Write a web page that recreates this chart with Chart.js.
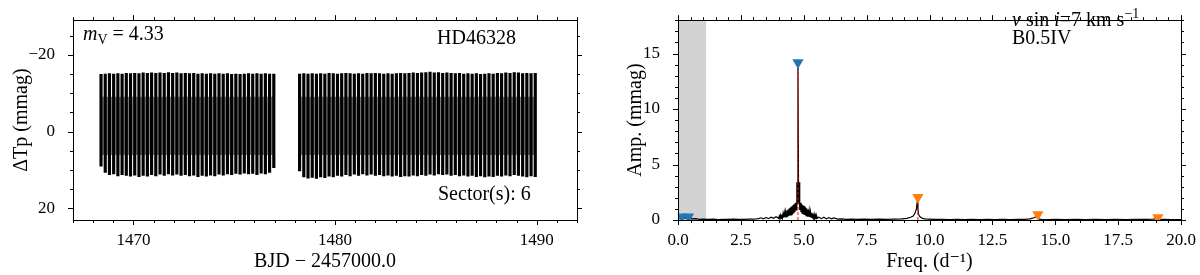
<!DOCTYPE html>
<html lang="en">
<head>
<meta charset="UTF-8">
<title>HD46328 - light curve and amplitude spectrum</title>
<script src="https://cdn.jsdelivr.net/npm/chart.js"></script>
<style>
  html, body { margin: 0; padding: 0; background: #fff; }
  #wrap { position: relative; width: 1200px; height: 275px; }
  .panel { position: absolute; top: 0; width: 600px; height: 275px; }
  #left { left: 0; }
  #right { left: 600px; }
</style>
</head>
<body>
<div id="wrap">
  <div class="panel" id="left"><canvas id="lcChart" width="600" height="275"></canvas></div>
  <div class="panel" id="right"><canvas id="spChart" width="600" height="275"></canvas></div>
</div>
<script>
// ---- light curve (TESS sector 6), one stroke per pulsation cycle: max / min in mmag
const seg1Start = 1468.39, seg1End = 1476.96;
const seg2Start = 1478.24, seg2End = 1489.93;
const seg1Top = [-14.9,-15.0,-15.1,-15.0,-15.1,-15.0,-15.2,-15.1,-15.2,-15.1,
                 -15.3,-15.2,-15.3,-15.2,-15.3,-15.2,-15.4,-15.2,-15.3,-15.1,
                 -15.2,-15.1,-15.2,-15.0,-15.1,-15.0,-15.1,-15.0,-15.1,-15.0,
                 -15.1,-14.9,-15.0,-14.9,-15.0,-15.1,-15.0,-15.1,-15.0,-15.1,
                 -15.0,-15.0];
const seg1Bottom = [9.0,10.6,11.2,11.0,11.5,11.2,11.4,11.6,11.3,11.7,
                    11.4,11.6,11.2,11.5,11.1,11.4,11.0,11.3,11.1,11.4,
                    11.2,11.5,11.3,11.7,11.4,11.6,11.3,11.5,11.1,11.3,
                    11.0,11.2,10.9,11.1,10.8,11.0,10.9,11.2,10.8,11.0,
                    10.6,9.4];
const seg2Top = [-15.0,-15.1,-15.0,-15.1,-15.0,-15.1,-15.0,-15.2,-15.1,-15.0,
                 -15.1,-15.2,-15.1,-15.0,-15.1,-15.0,-15.2,-15.1,-15.2,-15.1,
                 -15.0,-15.1,-15.0,-15.1,-15.2,-15.1,-15.2,-15.3,-15.2,-15.3,
                 -15.4,-15.5,-15.3,-15.4,-15.2,-15.3,-15.2,-15.1,-15.2,-15.0,
                 -15.1,-15.0,-15.1,-14.9,-15.0,-15.1,-15.0,-15.2,-15.1,-15.3,
                 -15.2,-15.4,-15.3,-15.1,-15.2,-15.1,-15.2];
const seg2Bottom = [10.2,11.8,12.1,11.9,12.2,11.8,12.0,11.6,11.8,11.4,
                    11.6,11.2,11.5,11.1,11.4,11.0,11.3,11.1,11.4,11.2,
                    11.5,11.3,11.6,11.4,11.7,11.5,11.6,11.3,11.5,11.2,
                    11.4,11.1,11.3,11.0,11.2,11.1,11.4,11.2,11.5,11.3,
                    11.6,11.4,11.7,11.5,11.8,11.6,11.7,11.4,11.6,11.3,
                    11.5,11.2,11.4,11.6,11.8,11.5,11.7];
// rising/falling branches fill the gaps between the cycle strokes over this range
const branchHigh = -9.0, branchLow = 6.0;
const lcXTicks = [1470, 1480, 1490];
const lcYTicks = [-20, 0, 20];

// ---- amplitude spectrum
const specFreq = [0.00,0.05,0.10,0.20,0.30,0.40,0.55,0.70,0.85,1.00,
                  1.20,1.40,1.60,1.80,2.00,2.20,2.40,2.60,2.80,3.00,
                  3.20,3.30,3.40,3.50,3.60,3.70,3.80,3.90,
                  4.000,4.025,4.050,4.075,4.100,4.125,4.150,4.175,4.200,4.225,
                  4.250,4.275,4.300,4.325,4.350,4.375,4.400,4.425,4.450,4.475,
                  4.500,4.525,4.550,4.575,4.600,4.625,4.650,4.675,4.700,4.725,
                  4.745,4.770,4.795,4.815,4.840,4.865,4.890,4.915,4.940,4.965,
                  4.990,5.015,5.040,5.065,5.090,5.115,5.140,5.165,5.190,5.215,
                  5.240,5.265,5.290,5.315,5.340,5.365,5.390,5.415,5.440,5.465,
                  5.490,5.515,5.540,5.60,5.70,5.80,5.90,6.00,6.10,6.20,
                  6.35,6.50,6.70,6.90,7.10,7.40,7.70,8.00,8.30,8.60,
                  8.90,9.10,9.25,9.35,9.42,9.48,9.52,9.54,9.56,9.60,
                  9.66,9.73,9.83,9.95,10.2,10.5,10.8,11.1,11.4,11.7,
                  12.0,12.3,12.6,12.9,13.2,13.5,13.8,14.0,14.15,14.25,
                  14.31,14.37,14.47,14.7,15.0,15.4,15.8,16.2,16.6,17.0,
                  17.4,17.8,18.2,18.6,18.9,19.02,19.08,19.14,19.3,19.6,
                  20.0];
const specAmp  = [0.25,0.35,0.20,0.30,0.15,0.25,0.10,0.12,0.06,0.08,
                  0.05,0.07,0.04,0.06,0.05,0.07,0.05,0.06,0.08,0.07,
                  0.12,0.20,0.10,0.22,0.12,0.25,0.15,0.30,
                  0.15,0.35,0.12,0.42,0.15,0.50,0.18,0.58,0.20,0.66,
                  0.25,0.75,0.28,0.85,0.30,0.95,0.35,1.05,0.40,1.15,
                  0.45,1.25,0.50,1.35,0.60,1.45,0.70,1.55,0.90,3.40,
                  1.50,13.8,1.50,3.40,0.90,1.55,0.70,1.45,0.60,1.35,
                  0.50,1.25,0.45,1.15,0.40,1.05,0.35,0.95,0.30,0.85,
                  0.28,0.75,0.25,0.66,0.20,0.58,0.18,0.50,0.15,0.42,
                  0.12,0.35,0.15,0.25,0.12,0.25,0.10,0.22,0.10,0.18,
                  0.08,0.10,0.06,0.08,0.06,0.07,0.05,0.07,0.06,0.08,
                  0.10,0.15,0.25,0.35,0.60,1.00,1.85,1.00,0.55,0.35,
                  0.22,0.15,0.10,0.07,0.05,0.06,0.04,0.05,0.04,0.05,
                  0.04,0.05,0.04,0.05,0.04,0.05,0.06,0.10,0.20,0.30,
                  0.20,0.08,0.05,0.04,0.05,0.04,0.05,0.04,0.05,0.04,
                  0.05,0.04,0.05,0.05,0.08,0.12,0.07,0.04,0.05,0.04,
                  0.04];
const fitFreq = [4.77, 9.54];
const fitAmp = [13.9, 1.85];
const indepFreq = [0.15, 0.42, 4.77];
const indepAmp = [0.30, 0.30, 14.2];
const comboFreq = [9.54, 14.31, 19.08];
const comboAmp = [2.05, 0.50, 0.22];
const lowFreqCut = 1.12;
const spXTicks = [0, 2.5, 5, 7.5, 10, 12.5, 15, 17.5, 20];
const spYTicks = [0, 5, 10, 15];

const SERIF = "'Liberation Serif', 'DejaVu Serif', serif";
Chart.defaults.font.family = SERIF;
Chart.defaults.color = '#000';

// frame with outward major/minor ticks on all four sides
const frameTicks = {
  id: 'frameTicks',
  afterDraw(chart, args, o) {
    const {ctx, chartArea: a, scales: {x, y}} = chart;
    ctx.save();
    ctx.strokeStyle = '#000';
    ctx.lineWidth = 1;
    ctx.strokeRect(Math.round(a.left) + 0.5, Math.round(a.top) + 0.5,
                   Math.round(a.right - a.left), Math.round(a.bottom - a.top));
    const marks = (scale, step, len) => {
      const lo = Math.min(scale.min, scale.max), hi = Math.max(scale.min, scale.max);
      const n0 = Math.ceil(lo / step - 1e-6), n1 = Math.floor(hi / step + 1e-6);
      ctx.beginPath();
      for (let k = n0; k <= n1; k++) {
        const p = Math.round(scale.getPixelForValue(k * step)) + 0.5;
        if (scale.isHorizontal()) {
          ctx.moveTo(p, a.bottom); ctx.lineTo(p, a.bottom + len);
          ctx.moveTo(p, a.top); ctx.lineTo(p, a.top - len);
        } else {
          ctx.moveTo(a.left, p); ctx.lineTo(a.left - len, p);
          ctx.moveTo(a.right, p); ctx.lineTo(a.right + len, p);
        }
      }
      ctx.stroke();
    };
    marks(x, o.xMinor, 3);
    marks(x, o.xMajor, 5);
    marks(y, o.yMinor, 3);
    marks(y, o.yMajor, 5);
    ctx.restore();
  }
};

function drawRuns(ctx, x, y, runs) {
  for (const r of runs) {
    ctx.font = r.font;
    ctx.fillText(r.t, x, y + (r.dy || 0));
    x += ctx.measureText(r.t).width;
  }
}

const notes = {
  id: 'notes',
  afterDraw(chart, args, o) {
    const ctx = chart.ctx;
    ctx.save();
    ctx.fillStyle = '#000';
    ctx.textBaseline = 'alphabetic';
    ctx.textAlign = 'left';
    o.lines.forEach(l => drawRuns(ctx, l.x, l.y, l.runs));
    ctx.restore();
  }
};

const lowBand = {
  id: 'lowBand',
  beforeDatasetsDraw(chart, args, o) {
    const {ctx, chartArea: a, scales: {x}} = chart;
    ctx.save();
    ctx.fillStyle = '#d3d3d3';
    const x1 = x.getPixelForValue(o.to);
    ctx.fillRect(a.left, a.top, x1 - a.left, a.bottom - a.top);
    ctx.restore();
  }
};

const rm = '20px ' + SERIF, it = 'italic 20px ' + SERIF, sm = '14px ' + SERIF;

// ---- left panel: light curve
const lcPoints = [], lcBranches = [];
function addSegment(start, end, tops, bottoms) {
  const dt = (end - start) / (tops.length - 1);
  tops.forEach((t, i) => {
    lcPoints.push({ x: start + i * dt, y: [bottoms[i], t] });
    if (i < tops.length - 1) lcBranches.push({ x: start + (i + 0.5) * dt, y: [branchLow, branchHigh] });
  });
}
addSegment(seg1Start, seg1End, seg1Top, seg1Bottom);
addSegment(seg2Start, seg2End, seg2Top, seg2Bottom);

new Chart(document.getElementById('lcChart'), {
  type: 'bar',
  data: {
    datasets: [
      { data: lcPoints, backgroundColor: '#000', borderWidth: 0, barThickness: 2.5, grouped: false },
      { data: lcBranches, backgroundColor: 'rgba(0,0,0,0.5)', borderWidth: 0, barThickness: 1.8, grouped: false }
    ]
  },
  options: {
    responsive: false,
    animation: false,
    layout: { padding: { top: 7, right: 23, left: 0, bottom: 0 } },
    plugins: {
      legend: { display: false },
      tooltip: { enabled: false },
      frameTicks: { xMinor: 1, xMajor: 10, yMinor: 5, yMajor: 20 },
      notes: { lines: [
        { x: 83, y: 40, runs: [{t: 'm', font: it}, {t: 'V', font: sm, dy: 4}, {t: ' = 4.33', font: rm}] },
        { x: 437, y: 44, runs: [{t: 'HD46328', font: rm}] },
        { x: 438, y: 200, runs: [{t: 'Sector(s): 6', font: rm}] }
      ] }
    },
    scales: {
      x: {
        type: 'linear', min: 1467, max: 1492, offset: false,
        grid: { display: false, offset: false }, border: { display: false },
        afterBuildTicks: s => { s.ticks = lcXTicks.map(v => ({ value: v })); },
        afterFit: s => { s.height = 55; },
        ticks: { font: { size: 17 }, padding: 2, maxRotation: 0, callback: v => String(v) },
        title: { display: true, text: 'BJD \u2212 2457000.0', font: { size: 20 }, padding: { top: 0, bottom: 1 } }
      },
      y: {
        type: 'linear', reverse: true, min: -29, max: 23,
        grid: { display: false }, border: { display: false },
        afterBuildTicks: s => { s.ticks = lcYTicks.map(v => ({ value: v })); },
        afterFit: s => { s.width = 73; },
        ticks: { font: { size: 17 }, padding: 10,
                 callback: v => v < 0 ? '\u2212' + Math.abs(v) : String(v) },
        title: { display: true, text: '\u0394Tp (mmag)', font: { size: 20 }, padding: { top: 10, bottom: 0 } }
      }
    }
  },
  plugins: [frameTicks, notes]
});

// ---- right panel: amplitude spectrum
const zip = (a, b) => a.map((v, i) => ({ x: v, y: b[i] }));
const fitLines = [];
fitFreq.forEach((f, i) => { fitLines.push({x: f, y: 0}, {x: f, y: fitAmp[i]}, {x: f, y: null}); });

new Chart(document.getElementById('spChart'), {
  type: 'scatter',
  data: {
    datasets: [
      { data: zip(indepFreq, indepAmp), pointStyle: 'triangle', rotation: 180, pointRadius: 6.5,
        backgroundColor: '#1f77b4', borderWidth: 0, clip: 0 },
      { data: zip(comboFreq, comboAmp), pointStyle: 'triangle', rotation: 180, pointRadius: 6.5,
        backgroundColor: '#ff7f0e', borderWidth: 0, clip: 0 },
      { type: 'line', data: fitLines, borderColor: '#ff0000', borderWidth: 1, borderDash: [3, 2],
        pointRadius: 0, spanGaps: false },
      { type: 'line', data: zip(specFreq, specAmp), borderColor: '#000', borderWidth: 1.2,
        pointRadius: 0, tension: 0 }
    ]
  },
  options: {
    responsive: false,
    animation: false,
    layout: { padding: { top: 7, right: 19, left: 0, bottom: 0 } },
    plugins: {
      legend: { display: false },
      tooltip: { enabled: false },
      lowBand: { to: lowFreqCut },
      frameTicks: { xMinor: 0.5, xMajor: 2.5, yMinor: 1, yMajor: 5 },
      notes: { lines: [
        { x: 412, y: 26, runs: [{t: 'v', font: it}, {t: ' sin ', font: rm}, {t: 'i', font: it},
                                {t: '=7 km s', font: rm}, {t: '\u22121', font: sm, dy: -8}] },
        { x: 412, y: 44, runs: [{t: 'B0.5IV', font: rm}] }
      ] }
    },
    scales: {
      x: {
        type: 'linear', min: 0, max: 20,
        grid: { display: false }, border: { display: false },
        afterBuildTicks: s => { s.ticks = spXTicks.map(v => ({ value: v })); },
        afterFit: s => { s.height = 55; },
        ticks: { font: { size: 17 }, padding: 2, maxRotation: 0, autoSkip: false,
                 callback: v => v.toFixed(1) },
        title: { display: true, text: 'Freq. (d\u207B\u00B9)', font: { size: 20 }, padding: { top: 0, bottom: 1 } }
      },
      y: {
        type: 'linear', min: 0, max: 18,
        grid: { display: false }, border: { display: false },
        afterBuildTicks: s => { s.ticks = spYTicks.map(v => ({ value: v })); },
        afterFit: s => { s.width = 78; },
        ticks: { font: { size: 17 }, padding: 10 },
        title: { display: true, text: 'Amp. (mmag)', font: { size: 20 }, padding: { top: 24, bottom: 0 } }
      }
    }
  },
  plugins: [lowBand, frameTicks, notes]
});
</script>
</body>
</html>
